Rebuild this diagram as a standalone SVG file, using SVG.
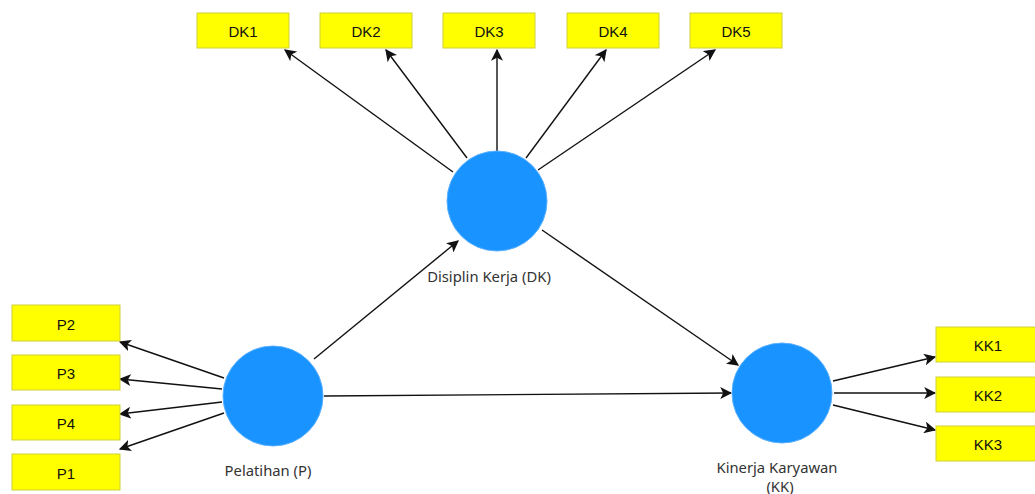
<svg xmlns="http://www.w3.org/2000/svg" width="1035" height="494" viewBox="0 0 1035 494">
  <style>
    .ind { fill: #ffff00; stroke: #cfcf3a; stroke-width: 1; }
    .ind-t { font-family: "Liberation Sans", Arial, sans-serif; font-size: 15px; fill: #111; text-anchor: middle; dominant-baseline: central; }
    .lv { fill: #1893ff; stroke: #5ab0ff; stroke-width: 1; }
    .lv-t { font-family: "Noto Sans", "Liberation Sans", sans-serif; font-size: 14.8px; fill: #333; text-anchor: middle; }
    .edge { stroke: #111; stroke-width: 1.4; fill: none; marker-end: url(#arr); }
  </style>
  <defs>
    <marker id="arr" viewBox="0 0 10 10" refX="9" refY="5" markerWidth="12" markerHeight="12" markerUnits="userSpaceOnUse" orient="auto">
      <path d="M0,0 L10,5 L0,10 L2.5,5 z" fill="#111"/>
    </marker>
  </defs>
  <rect width="1035" height="494" fill="#ffffff"/>

  <g id="connectors">
    <!-- Disiplin Kerja loadings -->
    <line class="edge" x1="453" y1="172" x2="285" y2="50"/>
    <line class="edge" x1="467" y1="158" x2="386" y2="50"/>
    <line class="edge" x1="497" y1="151" x2="497" y2="50"/>
    <line class="edge" x1="526" y1="158" x2="606" y2="50"/>
    <line class="edge" x1="538" y1="170" x2="715" y2="50"/>
    <!-- structural paths -->
    <line class="edge" x1="314" y1="359" x2="458" y2="241"/>
    <line class="edge" x1="324" y1="396" x2="731" y2="393"/>
    <line class="edge" x1="542" y1="230" x2="738" y2="365"/>
    <!-- Pelatihan loadings -->
    <line class="edge" x1="224" y1="378" x2="120" y2="342"/>
    <line class="edge" x1="222" y1="389" x2="120" y2="379"/>
    <line class="edge" x1="222" y1="402" x2="120" y2="414"/>
    <line class="edge" x1="224" y1="413" x2="120" y2="449"/>
    <!-- Kinerja Karyawan loadings -->
    <line class="edge" x1="833" y1="381" x2="935" y2="357"/>
    <line class="edge" x1="834" y1="393" x2="935" y2="393"/>
    <line class="edge" x1="833" y1="405" x2="935" y2="430"/>
  </g>

  <g id="DK1"><rect class="ind" x="197" y="13" width="92" height="35"/><text class="ind-t" x="243" y="31">DK1</text></g>
  <g id="DK2"><rect class="ind" x="320" y="13" width="92" height="35"/><text class="ind-t" x="366" y="31">DK2</text></g>
  <g id="DK3"><rect class="ind" x="443" y="13" width="92" height="35"/><text class="ind-t" x="489" y="31">DK3</text></g>
  <g id="DK4"><rect class="ind" x="567" y="13" width="92" height="35"/><text class="ind-t" x="613" y="31">DK4</text></g>
  <g id="DK5"><rect class="ind" x="690" y="13" width="92" height="35"/><text class="ind-t" x="736" y="31">DK5</text></g>

  <g id="P2"><rect class="ind" x="12" y="305" width="108" height="36"/><text class="ind-t" x="66" y="324">P2</text></g>
  <g id="P3"><rect class="ind" x="12" y="355" width="108" height="35"/><text class="ind-t" x="66" y="373">P3</text></g>
  <g id="P4"><rect class="ind" x="12" y="405" width="108" height="35"/><text class="ind-t" x="66" y="423">P4</text></g>
  <g id="P1"><rect class="ind" x="12" y="454" width="108" height="36"/><text class="ind-t" x="66" y="473">P1</text></g>

  <g id="KK1"><rect class="ind" x="936" y="327" width="105" height="35"/><text class="ind-t" x="988" y="345">KK1</text></g>
  <g id="KK2"><rect class="ind" x="936" y="377" width="105" height="35"/><text class="ind-t" x="988" y="395">KK2</text></g>
  <g id="KK3"><rect class="ind" x="936" y="426" width="105" height="35"/><text class="ind-t" x="988" y="444">KK3</text></g>

  <g id="DK">
    <circle class="lv" cx="497" cy="201" r="50"/>
    <text class="lv-t" x="489" y="282">Disiplin Kerja (DK)</text>
  </g>
  <g id="P">
    <circle class="lv" cx="273" cy="396" r="50"/>
    <text class="lv-t" x="268" y="476">Pelatihan (P)</text>
  </g>
  <g id="KK">
    <circle class="lv" cx="782" cy="393" r="50"/>
    <text class="lv-t" x="777" y="473">Kinerja Karyawan</text>
    <text class="lv-t" x="780" y="492">(KK)</text>
  </g>
</svg>
